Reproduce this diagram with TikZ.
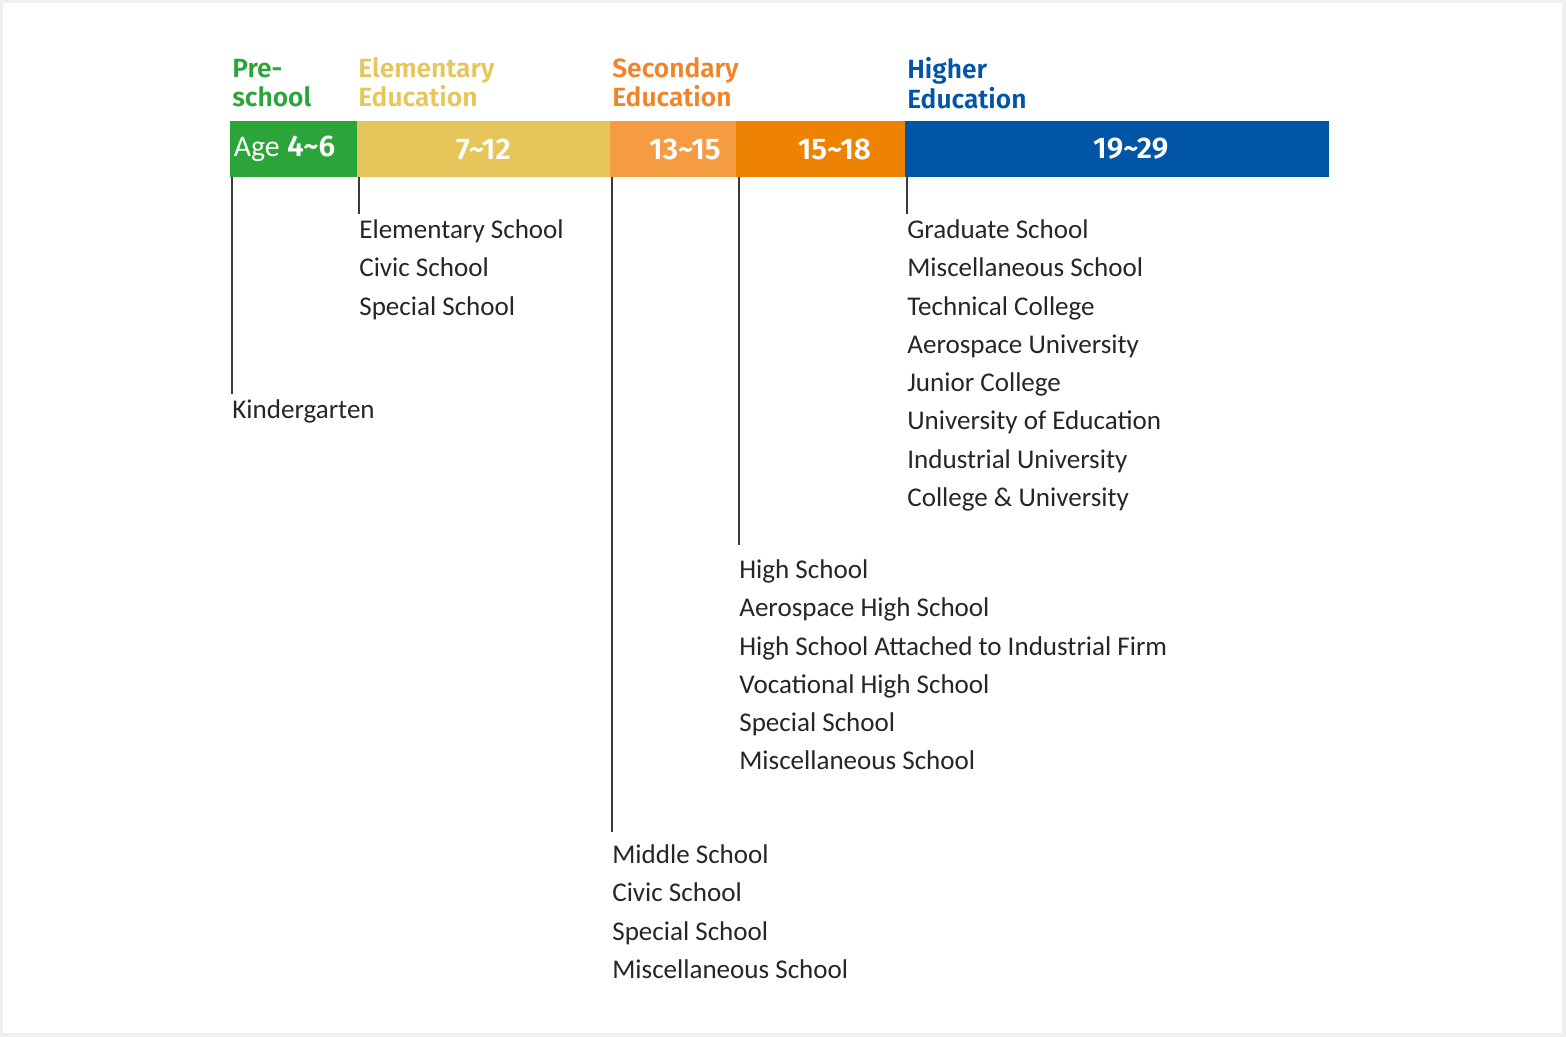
\documentclass[tikz,border=0pt]{standalone}
\usepackage{fontspec}
\setmainfont{Carlito}
\newfontfamily\headfont{Fira Sans SemiBold}
\usetikzlibrary{positioning,calc}
\definecolor{edgreen}{HTML}{2BA43A}
\definecolor{edyellow}{HTML}{E6C65B}
\definecolor{edlight}{HTML}{F59B42}
\definecolor{edorange}{HTML}{EE8202}
\definecolor{edblue}{HTML}{0055A6}
\definecolor{edhead}{HTML}{F08428}
\definecolor{edtext}{HTML}{262626}
\definecolor{edline}{HTML}{3A3A3A}
\definecolor{edframe}{HTML}{EFEFEF}

\begin{document}
\begin{tikzpicture}[x=0.02cm,y=-0.02cm,
  seg/.style={minimum height=1.12cm,inner sep=0,outer sep=0},
  age/.style={inner sep=0,text=white,font=\headfont\fontsize{17}{19}\selectfont},
  head/.style={anchor=north west,inner sep=0,align=left,
    font=\headfont\fontsize{15}{16.8}\selectfont},
  list/.style={anchor=north west,inner xsep=0,inner ysep=3pt,align=left,
    text=edtext,font=\fontsize{15.4}{21.8}\selectfont},
  stem/.style={draw=edline,line width=1.1pt}]
\useasboundingbox (0,0) rectangle (1566,1037);
% Frame
\draw[edframe,line width=2.5pt] (1,1) rectangle (1564,1035);

% Age bar
\node[seg,fill=edgreen,minimum width=2.54cm,anchor=north west] (pre) at (230,121) {};
\node[seg,fill=edyellow,minimum width=5.06cm,right=0pt of pre] (elem) {};
\node[seg,fill=edlight,minimum width=2.52cm,right=0pt of elem] (mid) {};
\node[seg,fill=edorange,minimum width=3.38cm,right=0pt of mid] (high) {};
\node[seg,fill=edblue,minimum width=8.48cm,right=0pt of high] (higher) {};

\node[age] (apre) at ([xshift=-0.18cm]pre.center) {{\fontspec{Carlito}Age} 4\textasciitilde6};
\node[age] (aelem) at (elem.center) {7\textasciitilde12};
\node[age] (amid) at ([xshift=0.24cm]mid.center) {13\textasciitilde15};
\node[age] (ahigh) at ([xshift=0.28cm]high.center) {15\textasciitilde18};
\node[age] (ahigher) at ([xshift=0.28cm]higher.center) {19\textasciitilde29};

% Stage titles
\node[head,text=edgreen] (tpre) at (232,57) {\vphantom{Hl}Pre-\\school};
\node[head,text=edyellow] (telem) at (358,57) {\vphantom{Hl}Elementary\\Education};
\node[head,text=edhead] (tsec) at (612,57) {\vphantom{Hl}Secondary\\Education};
\node[head,text=edblue] (thigh) at (907,57) {\vphantom{Hl}Higher\\Education};

% School lists
\node[list] (kinder) at (232,394) {Kindergarten};
\node[list] (lelem) at (359,214) {Elementary School\\Civic School\\Special School};
\node[list] (lmid) at (612,839) {Middle School\\Civic School\\Special School\\Miscellaneous School};
\node[list] (lhigh) at (739,554) {High School\\Aerospace High School\\High School Attached to Industrial Firm\\
  Vocational High School\\Special School\\Miscellaneous School};
\node[list] (lgrad) at (907,214) {Graduate School\\Miscellaneous School\\Technical College\\
  Aerospace University\\Junior College\\University of Education\\Industrial University\\College \& University};

% Stems
\draw[stem] (kinder.north west |- pre.south) -- (kinder.north west);
\draw[stem] (lelem.north west |- pre.south) -- (lelem.north west);
\draw[stem,shorten >=0.14cm] (lmid.north west |- pre.south) -- (lmid.north west);
\draw[stem,shorten >=0.18cm] (lhigh.north west |- pre.south) -- (lhigh.north west);
\draw[stem] (lgrad.north west |- pre.south) -- (lgrad.north west);
\end{tikzpicture}
\end{document}
